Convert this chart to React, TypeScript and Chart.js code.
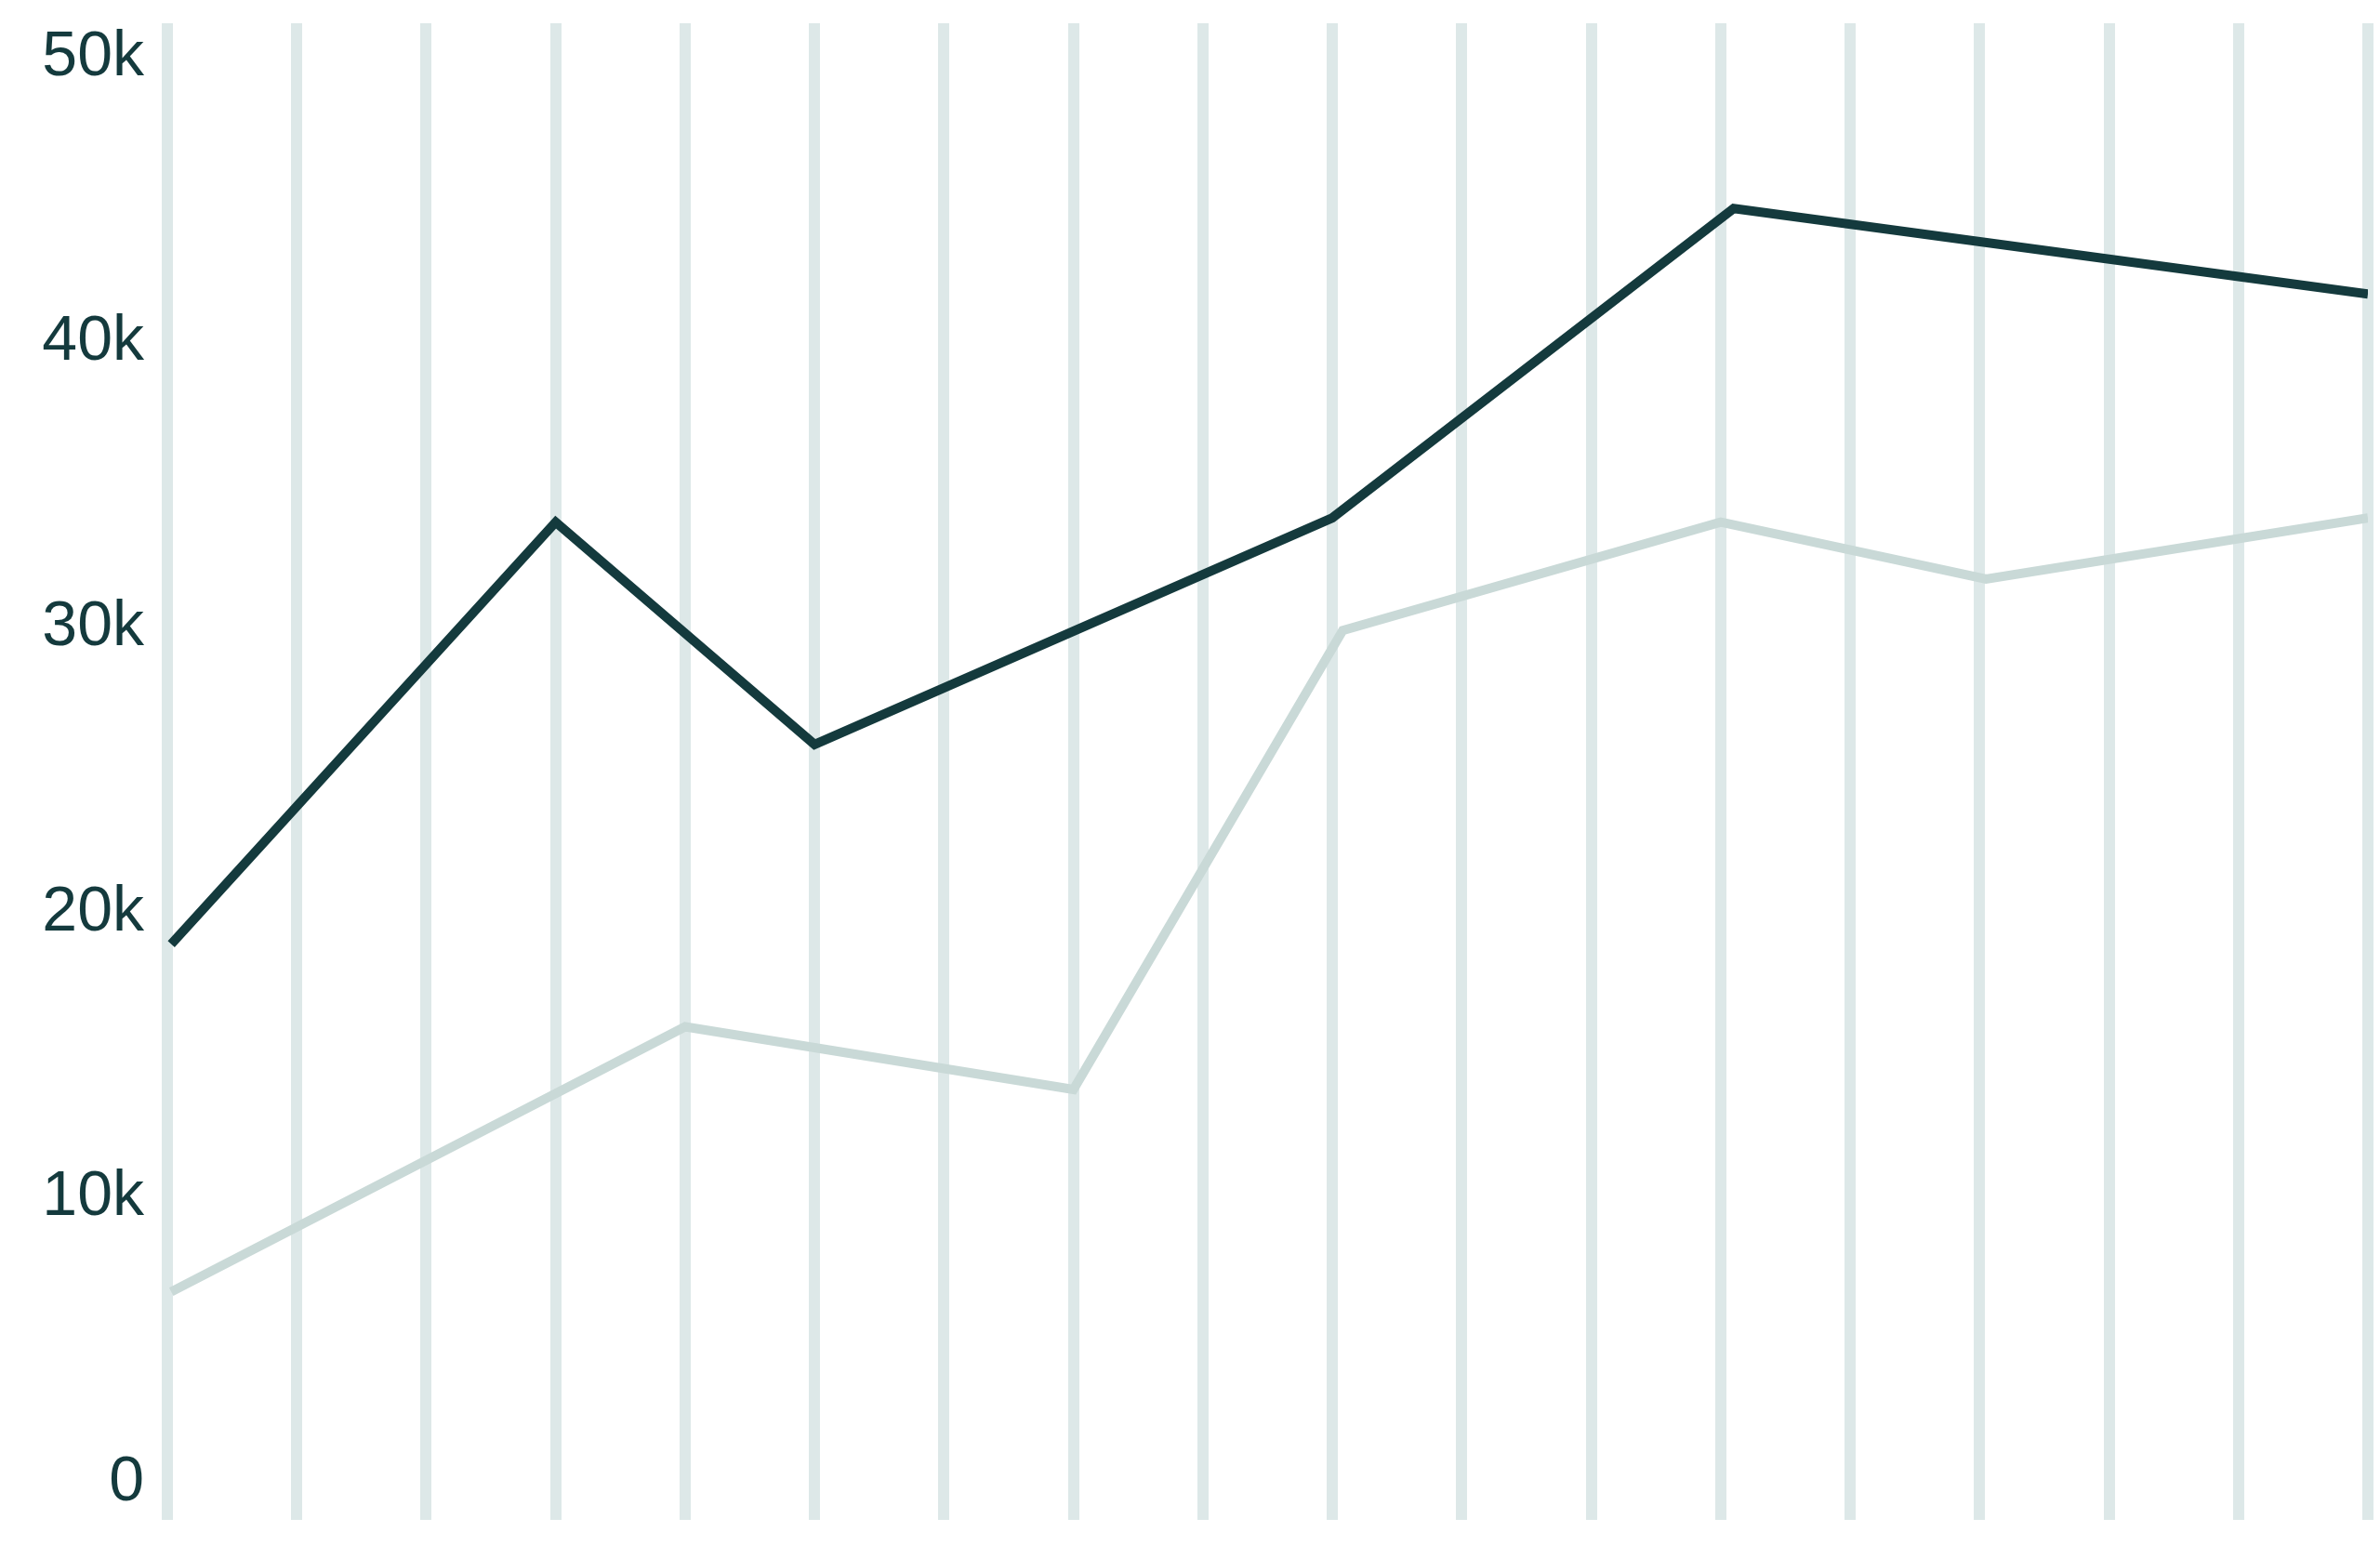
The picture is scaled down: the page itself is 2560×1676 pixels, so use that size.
import React, { useEffect, useRef } from "react";
import { Chart, registerables } from "chart.js";

Chart.register(...registerables);

// x positions are in grid-column units (0..17), values in raw units
const gridColumns = [0, 1, 2, 3, 4, 5, 6, 7, 8, 9, 10, 11, 12, 13, 14, 15, 16, 17];
const yTickValues = [0, 10000, 20000, 30000, 40000, 50000];

const darkX = [0.03, 3, 5, 9, 12.1, 17];
const darkValues = [18900, 33700, 25900, 33850, 44700, 41700];

const lightX = [0.03, 4, 7, 9.08, 12, 14.05, 17];
const lightValues = [6700, 16000, 13800, 29900, 33700, 31700, 33850];

const DARK = "#143a3d";
const LIGHT = "#c9d9d7";
const GRID = "#dde8e8";

const App: React.FC = () => {
  const canvasRef = useRef<HTMLCanvasElement>(null);

  useEffect(() => {
    document.body.style.margin = "0";
    if (!canvasRef.current) return;
    const ctx = canvasRef.current.getContext("2d");
    if (!ctx) return;

    const chart = new Chart(ctx, {
      type: "line",
      data: {
        datasets: [
          {
            label: "Light",
            data: lightX.map((x, i) => ({ x, y: lightValues[i] })),
            borderColor: LIGHT,
            backgroundColor: LIGHT,
            borderWidth: 10,
            pointRadius: 0,
            tension: 0,
            fill: false,
          },
          {
            label: "Dark",
            data: darkX.map((x, i) => ({ x, y: darkValues[i] })),
            borderColor: DARK,
            backgroundColor: DARK,
            borderWidth: 10,
            pointRadius: 0,
            tension: 0,
            fill: false,
          },
        ],
      },
      options: {
        animation: false,
        responsive: true,
        maintainAspectRatio: false,
        layout: {
          padding: { left: 0, right: 13, top: 25, bottom: 41 },
        },
        plugins: {
          legend: { display: false },
          tooltip: { enabled: false },
        },
        scales: {
          x: {
            type: "linear",
            min: 0,
            max: 17,
            afterBuildTicks: (scale) => {
              scale.ticks = gridColumns.map((v) => ({ value: v }));
            },
            afterFit: (scale) => {
              scale.height = 0;
              scale.paddingLeft = 0;
              scale.paddingRight = 0;
            },
            ticks: { display: false },
            border: { display: false },
            grid: {
              color: GRID,
              lineWidth: 12,
              drawTicks: false,
            },
          },
          y: {
            min: -1300,
            max: 51200,
            afterBuildTicks: (scale) => {
              scale.ticks = yTickValues.map((v) => ({ value: v }));
            },
            afterFit: (scale) => {
              scale.width = 180;
              scale.paddingTop = 0;
              scale.paddingBottom = 0;
            },
            border: { display: false },
            grid: { display: false },
            ticks: {
              padding: 17,
              color: DARK,
              font: { family: "'Liberation Sans', Arial, sans-serif", size: 68 },
              callback: (value) => {
                const num = Number(value);
                return num === 0 ? "0" : `${Math.round(num / 1000)}k`;
              },
            },
          },
        },
      },
    });

    return () => {
      chart.destroy();
    };
  }, []);

  return (
    <div style={{ width: "2560px", height: "1676px", background: "#ffffff" }}>
      <canvas ref={canvasRef} />
    </div>
  );
};

export default App;
